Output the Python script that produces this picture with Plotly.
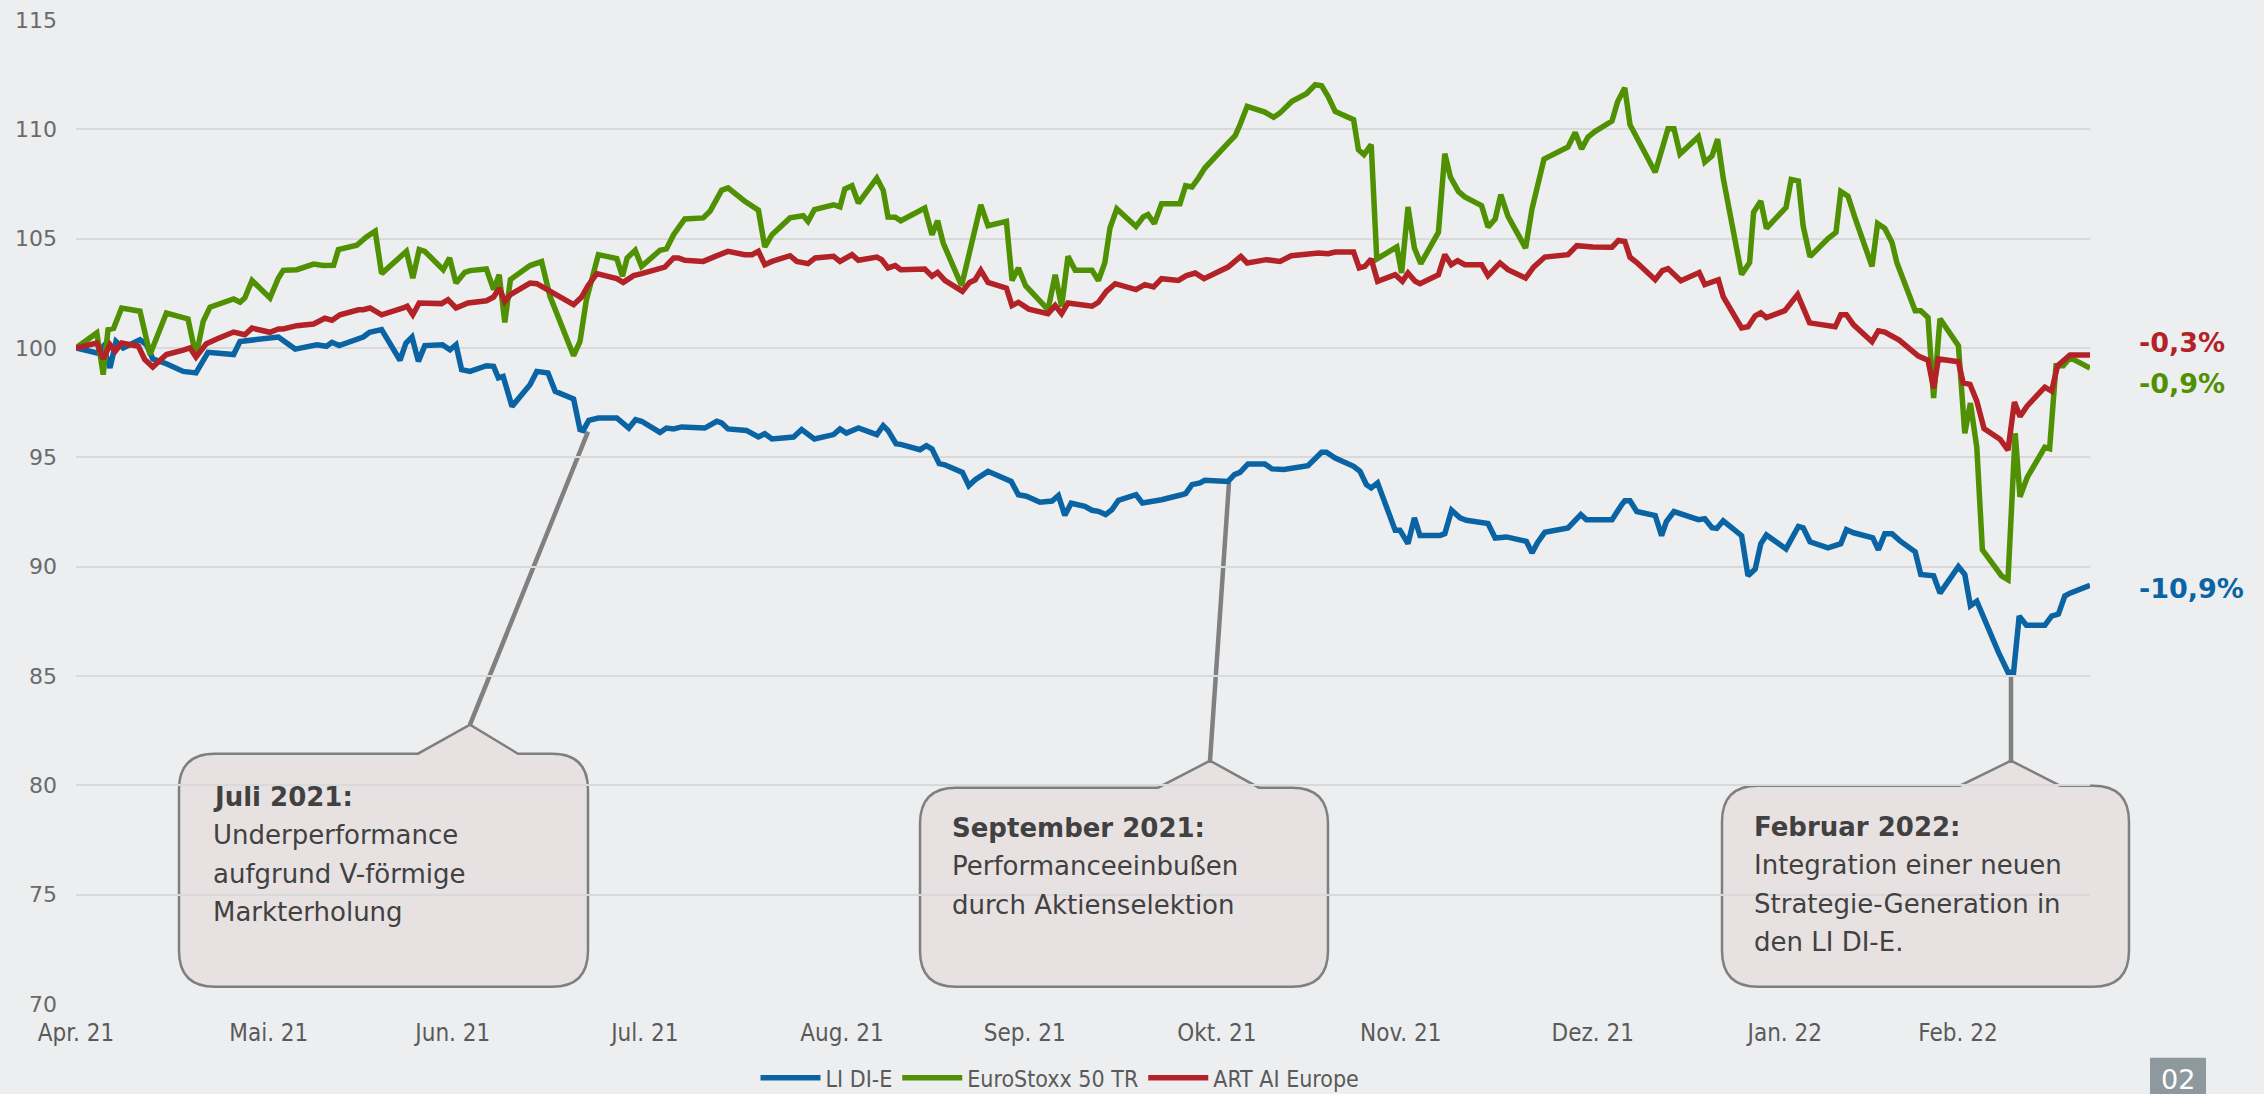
import plotly.graph_objects as go

# ----------------------------------------------------
# Data (x = trading-day position)
# ----------------------------------------------------
month_labels = ["Apr. 21", "Mai. 21", "Jun. 21", "Jul. 21", "Aug. 21", "Sep. 21",
                "Okt. 21", "Nov. 21", "Dez. 21", "Jan. 22", "Feb. 22"]
month_pos = [0, 24.1, 47.1, 71.1, 95.75, 118.6, 142.6, 165.6, 189.6, 213.6, 235.25]

li_x = [0, 2.6, 3.4, 4.25, 5.0, 5.9, 8.0, 8.8, 9.6, 11.3, 13.4, 15.0, 16.5, 19.7, 20.5,
        22.0, 25.3, 27.4, 30.1, 31.3, 32.0, 32.9, 35.1, 35.9, 36.7, 38.2, 40.5, 41.25,
        42.0, 42.8, 43.6, 45.8, 46.75, 47.5, 48.2, 49.25, 51.3, 52.2, 52.8, 53.4, 54.5,
        56.75, 57.6, 59.0, 59.9, 62.2, 63.0, 63.4, 64.1, 65.3, 67.6, 68.4, 69.1, 69.95,
        70.7, 73.0, 73.8, 74.7, 75.7, 78.6, 80.1, 80.7, 81.5, 83.8, 85.3, 86.1, 87.0,
        89.7, 90.7, 92.3, 94.7, 95.5, 96.3, 97.8, 100.1, 100.9, 101.5, 102.5, 103.2,
        105.5, 106.3, 107.0, 107.9, 108.6, 110.8, 111.6, 112.4, 114.0, 116.9, 117.8,
        118.8, 120.5, 122.0, 122.8, 123.6, 124.4, 126.1, 127.0, 127.8, 128.7, 129.5,
        130.3, 132.5, 133.3, 135.7, 138.2, 138.7, 139.5, 140.5, 141.1, 144.0, 144.8,
        145.5, 146.5, 148.6, 149.5, 151.0, 154.0, 155.7, 156.3, 157.4, 159.7, 160.5,
        161.3, 161.9, 162.7, 164.9, 165.5, 166.5, 167.3, 168.0, 170.5, 171.1, 171.95,
        173.0, 173.8, 176.5, 177.4, 178.8, 181.3, 182.0, 182.7, 183.6, 186.5, 188.1,
        188.8, 192.0, 193.2, 193.6, 194.25, 195.1, 197.4, 198.2, 198.8, 199.75, 202.8,
        203.6, 204.5, 205.1, 205.9, 208.2, 209.0, 209.9, 210.6, 211.3, 213.75, 215.3,
        215.9, 216.75, 219.0, 220.6, 221.3, 222.2, 224.6, 225.3, 226.1, 227.0, 228.0,
        229.9, 230.6, 232.2, 233.0, 235.3, 236.1, 236.8, 237.6, 238.4, 240.3, 241.5,
        242.2, 242.9, 243.8, 246.1, 246.95, 247.8, 248.6, 249.25, 251.75]
li_y = [100.0, 99.77, 100.08, 99.09, 100.3, 100.0, 100.38, 100.15, 99.5, 99.28, 98.93,
        98.86, 99.8, 99.7, 100.3, 100.35, 100.5, 99.95, 100.15, 100.08, 100.26, 100.11,
        100.41, 100.5, 100.72, 100.84, 99.44, 100.23, 100.5, 99.39, 100.11, 100.15, 99.92,
        100.15, 99.01, 98.93, 99.19, 99.16, 98.63, 98.7, 97.33, 98.32, 98.93, 98.86, 98.02,
        97.67, 96.27, 96.23, 96.69, 96.8, 96.8, 96.57, 96.34, 96.72, 96.65, 96.14, 96.34,
        96.3, 96.39, 96.34, 96.65, 96.57, 96.3, 96.23, 95.93, 96.08, 95.84, 95.93, 96.27,
        95.84, 96.04, 96.3, 96.11, 96.34, 96.04, 96.45, 96.23, 95.62, 95.58, 95.35, 95.53,
        95.38, 94.71, 94.66, 94.31, 93.7, 93.98, 94.36, 93.9, 93.29, 93.22, 92.95, 93.0,
        93.25, 92.35, 92.9, 92.76, 92.58, 92.53, 92.38, 92.61, 93.03, 93.29, 92.91, 93.06,
        93.29, 93.34, 93.75, 93.83, 93.95, 93.9, 94.21, 94.31, 94.7, 94.7, 94.47, 94.44,
        94.62, 95.23, 95.23, 94.97, 94.59, 94.36, 93.75, 93.6, 93.83, 91.66, 91.66, 91.05,
        92.23, 91.42, 91.42, 91.51, 92.58, 92.23, 92.12, 91.97, 91.31, 91.36, 91.16, 90.63,
        91.11, 91.57, 91.77, 92.38, 92.15, 92.15, 92.83, 93.01, 93.01, 92.52, 92.34, 91.42,
        92.06, 92.52, 92.15, 92.19, 91.78, 91.75, 92.1, 91.42, 89.58, 89.89, 91.05, 91.45,
        90.81, 91.84, 91.78, 91.14, 90.86, 91.05, 91.69, 91.55, 91.32, 90.77, 91.51, 91.51,
        91.18, 90.68, 89.64, 89.58, 88.79, 90.0, 89.64, 88.21, 88.42, 87.69, 86.09, 85.17,
        85.17, 87.74, 87.32, 87.32, 87.74, 87.83, 88.66, 88.79, 89.15]

stoxx_x = [0, 2.6, 3.4, 4.0, 4.7, 5.7, 8.0, 9.25, 11.3, 14.0, 15.0, 15.9, 16.75, 19.7,
           20.5, 21.1, 22.0, 24.25, 25.3, 25.9, 27.6, 29.7, 30.9, 32.2, 32.8, 35.1, 36.3,
           37.4, 38.2, 41.3, 42.1, 42.9, 43.6, 45.9, 46.7, 47.5, 48.6, 49.25, 51.3, 52.2,
           52.9, 53.6, 54.3, 56.75, 58.2, 59.25, 62.2, 63.0, 63.8, 65.3, 67.6, 68.3, 68.9,
           69.9, 70.7, 73.0, 73.8, 74.7, 76.1, 78.4, 79.25, 80.7, 81.5, 83.6, 85.3, 86.1,
           87.0, 89.25, 90.9, 91.5, 92.3, 94.7, 95.5, 96.1, 97.0, 97.8, 100.1, 100.9, 101.5,
           102.4, 103.1, 106.1, 107.0, 107.7, 108.4, 110.7, 113.1, 114.0, 116.3, 117.0,
           117.8, 118.7, 121.5, 122.4, 123.2, 124.0, 124.9, 127.0, 127.8, 128.6, 129.25,
           130.1, 132.5, 133.4, 134.0, 134.8, 135.7, 138.0, 138.7, 139.5, 140.3, 141.1,
           144.0, 144.9, 145.5, 146.4, 148.6, 149.7, 150.5, 152.0, 153.8, 154.9, 155.7,
           156.5, 157.4, 159.7, 160.3, 161.0, 161.9, 162.6, 165.1, 165.7, 166.5, 167.3,
           168.1, 170.3, 171.1, 171.8, 172.8, 173.6, 175.7, 176.5, 177.4, 178.1, 179.0,
           181.2, 182.0, 183.5, 186.5, 187.4, 188.2, 189.0, 189.9, 192.0, 192.7, 193.6,
           194.25, 197.4, 199.0, 199.75, 200.5, 202.8, 203.6, 204.5, 205.2, 205.9, 208.2,
           209.2, 209.7, 210.6, 211.3, 213.75, 214.4, 215.3, 215.9, 216.75, 219.0, 220.0,
           220.6, 221.5, 222.4, 224.5, 225.2, 226.1, 227.0, 227.6, 229.9, 230.6, 231.5,
           232.2, 233.0, 235.3, 236.1, 236.8, 237.6, 238.3, 240.7, 241.5, 242.4, 243.0,
           243.9, 246.1, 246.7, 247.5, 248.4, 249.25, 251.75]
stoxx_y = [100.0, 100.69, 98.78, 100.84, 100.9, 101.83, 101.68, 99.7, 101.6, 101.33, 99.62,
           101.22, 101.87, 102.24, 102.09, 102.29, 103.09, 102.29, 103.2, 103.55, 103.58,
           103.84, 103.77, 103.78, 104.5, 104.7, 105.08, 105.34, 103.4, 104.42, 103.2, 104.5,
           104.42, 103.58, 104.12, 102.97, 103.46, 103.54, 103.61, 102.67, 103.35, 101.17,
           103.13, 103.77, 103.95, 102.36, 99.65, 100.3, 102.2, 104.27, 104.09, 103.28,
           104.12, 104.47, 103.73, 104.47, 104.53, 105.18, 105.9, 105.95, 106.25, 107.21,
           107.32, 106.71, 106.3, 104.62, 105.18, 105.95, 106.05, 105.79, 106.33, 106.55,
           106.45, 107.27, 107.42, 106.63, 107.77, 107.21, 105.99, 105.98, 105.82, 106.4,
           105.18, 105.82, 104.8, 102.85, 106.55, 105.59, 105.79, 103.09, 103.66, 102.85,
           101.75, 103.35, 101.9, 104.19, 103.55, 103.55, 103.09, 103.89, 105.49, 106.36,
           105.56, 105.99, 106.1, 105.69, 106.6, 106.6, 107.42, 107.36, 107.77, 108.23,
           109.37, 109.71, 110.21, 111.05, 110.79, 110.55, 110.75, 111.28, 111.63, 112.04,
           111.99, 111.51, 110.82, 110.44, 109.07, 108.84, 109.3, 104.07, 104.62, 103.43,
           106.45, 104.57, 103.86, 105.29, 108.89, 107.82, 107.16, 106.91, 106.51, 105.53,
           105.9, 107.01, 106.02, 104.57, 106.36, 108.64, 109.19, 109.86, 109.1, 109.65,
           109.91, 110.38, 111.26, 111.9, 110.21, 108.04, 110.03, 110.03, 108.87, 109.66,
           108.5, 108.78, 109.55, 107.77, 103.36, 103.91, 106.21, 106.72, 105.47, 106.43,
           107.71, 107.64, 105.56, 104.18, 105.01, 105.29, 107.16, 106.94, 105.93, 103.73,
           105.69, 105.47, 104.83, 103.91, 101.7, 101.7, 101.39, 97.71, 101.34, 100.11,
           96.1, 97.48, 95.46, 90.77, 89.58, 89.4, 96.1, 93.2, 94.08, 95.46, 95.4, 99.19,
           99.19, 99.56, 99.08]

art_x = [0, 2.6, 3.4, 4.25, 4.9, 5.7, 7.8, 8.6, 9.6, 11.3, 13.4, 14.25, 15.0, 16.3, 17.6,
         19.7, 21.1, 22.0, 24.25, 25.3, 25.9, 27.6, 29.7, 31.1, 32.0, 33.0, 35.3, 35.9,
         36.75, 38.2, 40.9, 41.4, 42.1, 42.9, 45.7, 46.5, 47.5, 49.0, 51.3, 52.2, 52.9,
         53.6, 54.3, 56.75, 57.6, 59.25, 60.1, 62.2, 63.2, 64.0, 65.1, 67.6, 68.4, 69.7,
         70.7, 73.6, 74.7, 75.3, 76.1, 78.4, 79.9, 81.5, 83.6, 84.5, 85.3, 86.1, 87.0,
         89.25, 90.1, 91.5, 92.4, 94.7, 95.5, 97.0, 97.8, 100.1, 100.7, 101.5, 102.4, 103.1,
         106.1, 107.0, 107.7, 108.6, 110.8, 111.7, 112.4, 113.1, 114.0, 116.3, 117.0,
         117.8, 119.1, 121.5, 122.4, 123.2, 124.0, 126.1, 127.0, 127.8, 128.8, 129.9,
         132.5, 133.6, 134.7, 135.7, 137.8, 138.8, 139.9, 141.0, 144.0, 145.6, 146.4,
         148.8, 150.5, 151.9, 155.3, 156.5, 157.4, 159.7, 160.4, 161.1, 161.9, 162.7,
         164.9, 165.8, 166.5, 167.4, 168.0, 170.3, 171.1, 171.9, 172.7, 173.6, 175.7,
         176.5, 178.0, 179.0, 181.2, 182.2, 183.6, 186.5, 187.6, 189.6, 192.0, 192.8,
         193.6, 194.25, 195.1, 197.4, 198.3, 199.0, 200.6, 202.9, 203.6, 205.3, 205.9,
         208.2, 209.0, 209.9, 210.6, 211.3, 213.6, 215.2, 215.9, 216.7, 219.9, 220.6,
         221.3, 222.2, 224.5, 225.3, 226.1, 227.0, 227.9, 230.3, 231.5, 232.2, 232.8,
         235.3, 235.9, 236.75, 237.6, 238.5, 240.5, 241.5, 242.3, 243.0, 243.9, 246.1,
         246.95, 247.7, 249.25, 251.75]
art_y = [100.0, 100.23, 99.5, 100.15, 99.85, 100.23, 100.08, 99.47, 99.13, 99.7, 99.9,
         100.0, 99.59, 100.2, 100.41, 100.73, 100.61, 100.91, 100.72, 100.87, 100.87,
         101.02, 101.1, 101.36, 101.27, 101.52, 101.75, 101.75, 101.83, 101.52, 101.83,
         101.91, 101.52, 102.06, 102.03, 102.21, 101.83, 102.06, 102.16, 102.33, 102.74,
         102.13, 102.44, 102.97, 102.94, 102.59, 102.48, 101.98, 102.33, 102.85, 103.4,
         103.17, 103.0, 103.31, 103.4, 103.7, 104.12, 104.12, 104.01, 103.96, 104.19,
         104.42, 104.27, 104.27, 104.42, 103.81, 103.96, 104.22, 103.96, 103.86, 104.12,
         104.19, 103.96, 104.27, 104.01, 104.16, 104.04, 103.66, 103.77, 103.58, 103.61,
         103.28, 103.46, 103.09, 102.59, 103.0, 103.12, 103.55, 103.0, 102.74, 101.94,
         102.09, 101.78, 101.57, 101.94, 101.57, 102.06, 101.94, 101.91, 102.09, 102.59,
         102.94, 102.67, 102.9, 102.79, 103.17, 103.09, 103.31, 103.43, 103.17, 103.7,
         104.19, 103.89, 104.04, 103.96, 104.22, 104.34, 104.31, 104.39, 104.39, 103.66,
         103.73, 104.07, 103.05, 103.35, 103.05, 103.43, 103.05, 102.94, 103.35, 104.27,
         103.81, 103.99, 103.81, 103.81, 103.31, 103.89, 103.58, 103.2, 103.7, 104.16,
         104.27, 104.68, 104.62, 104.61, 104.92, 104.87, 104.15, 103.91, 103.12, 103.54,
         103.63, 103.08, 103.45, 102.9, 103.12, 102.35, 100.92, 100.97, 101.47, 101.61,
         101.39, 101.71, 102.44, 101.8, 101.15, 100.97, 101.52, 101.52, 101.06, 100.29,
         100.79, 100.73, 100.51, 100.36, 99.63, 99.44, 98.16, 99.5, 99.37, 98.4, 98.34,
         97.57, 96.32, 95.83, 95.33, 97.53, 96.87, 97.35, 98.21, 98.03, 99.19, 99.68,
         99.68]

end_labels = ["-0,3%", "-0,9%", "-10,9%"]

BLUE = "#0A64A4"
GREEN = "#4F9102"
RED = "#B22226"
BG = "#EDEEF0"
NARROW = "DejaVu Sans Condensed, Liberation Sans Narrow, Liberation Sans, sans-serif"

W, H = 2264, 1094
L, R, T, B = 76, 2090, 20.3, 1004.3


def px(x):
    return (x - L) / (R - L)


def py(y):
    return (B - y) / (B - T)


def callout(left, right, top, bottom, nl, ax, ay, nr, r=36):
    pts = [("M", left + r, top), ("L", nl, top), ("L", ax, ay), ("L", nr, top),
           ("L", right - r, top), ("Q", right, top, right, top + r),
           ("L", right, bottom - r), ("Q", right, bottom, right - r, bottom),
           ("L", left + r, bottom), ("Q", left, bottom, left, bottom - r),
           ("L", left, top + r), ("Q", left, top, left + r, top)]
    s = ""
    for p in pts:
        cmd, coords = p[0], p[1:]
        xy = []
        for i in range(0, len(coords), 2):
            xy.append("%.5f,%.5f" % (px(coords[i]), py(coords[i + 1])))
        s += cmd + " ".join(xy) + " "
    return s + "Z"


fig = go.Figure()

fig.add_trace(go.Scatter(x=li_x, y=li_y, name="LI DI-E", mode="lines",
                         line=dict(color=BLUE, width=5.5)))
fig.add_trace(go.Scatter(x=stoxx_x, y=stoxx_y, name="EuroStoxx 50 TR", mode="lines",
                         line=dict(color=GREEN, width=5.5)))
fig.add_trace(go.Scatter(x=art_x, y=art_y, name="ART AI Europe", mode="lines",
                         line=dict(color=RED, width=5.5)))

shapes = []
annotations = []

# callout boxes
boxes = [
    dict(box=(179, 588, 754, 987, 418, 470, 725, 518), line=(470, 725, 588, 432),
         lines=["<b>Juli 2021:</b>", "Underperformance", "aufgrund V-förmige", "Markterholung"],
         tx=211, ty=797),
    dict(box=(920, 1328, 788, 987, 1158, 1210, 761, 1259), line=(1210, 761, 1229, 483),
         lines=["<b>September 2021:</b>", "Performanceeinbußen", "durch Aktienselektion"],
         tx=950, ty=828),
    dict(box=(1722, 2129, 786, 987, 1960, 2011, 761, 2060), line=(2011, 761, 2011, 673),
         lines=["<b>Februar 2022:</b>", "Integration einer neuen",
                "Strategie-Generation in", "den LI DI-E."],
         tx=1752, ty=827),
]
for b in boxes:
    left, right, top, bottom, nl, ax, ay, nr = b["box"]
    shapes.append(dict(type="path", xref="paper", yref="paper",
                       path=callout(left, right, top, bottom, nl, ax, ay, nr),
                       fillcolor="#E7E1E1", line=dict(color="#7F7F7F", width=2.5),
                       layer="below"))
    x0, y0, x1, y1 = b["line"]
    shapes.append(dict(type="line", xref="paper", yref="paper",
                       x0=px(x0), y0=py(y0), x1=px(x1), y1=py(y1),
                       line=dict(color="#808080", width=4.5), layer="below"))
    for i, txt in enumerate(b["lines"]):
        annotations.append(dict(xref="paper", yref="paper", x=px(b["tx"]),
                                y=py(b["ty"] + i * 38.5), text=txt, showarrow=False,
                                xanchor="left", yanchor="middle",
                                font=dict(family="DejaVu Sans", size=26, color="#414141")))

# end-of-line labels
for txt, yy, col in zip(end_labels, [342.5, 384, 589], [RED, GREEN, BLUE]):
    annotations.append(dict(xref="paper", yref="paper", x=px(2137), y=py(yy),
                            text="<b>%s</b>" % txt, showarrow=False, xanchor="left",
                            yanchor="middle",
                            font=dict(family="DejaVu Sans", size=27, color=col)))

# page number box
shapes.append(dict(type="rect", xref="paper", yref="paper", x0=px(2150), x1=px(2206),
                   y0=py(1058), y1=py(1100), fillcolor="#8D999D", line=dict(width=0)))
annotations.append(dict(xref="paper", yref="paper", x=px(2178), y=py(1080), text="02",
                        showarrow=False, xanchor="center", yanchor="middle",
                        font=dict(family="DejaVu Sans", size=27, color="white")))

fig.update_layout(
    width=W, height=H,
    margin=dict(l=L, r=W - R, t=T, b=H - B, autoexpand=False),
    paper_bgcolor=BG, plot_bgcolor=BG,
    shapes=shapes, annotations=annotations,
    showlegend=True,
    legend=dict(orientation="h", x=px(1060), xanchor="center", y=py(1078),
                yanchor="middle", font=dict(family=NARROW, size=23, color="#5A5A5A"),
                bgcolor="rgba(0,0,0,0)", itemwidth=60),
    hovermode=False,
)

fig.update_xaxes(range=[0, 251.75], tickvals=month_pos, ticktext=month_labels,
                 showgrid=False, zeroline=False, showline=False, ticks="",
                 ticklabelstandoff=12,
                 tickfont=dict(family=NARROW, size=24, color="#5A5A5A"))
fig.update_yaxes(range=[70, 115], dtick=5, showgrid=True, gridcolor="#D8D9DB",
                 gridwidth=2, zeroline=False, showline=False, ticks="",
                 ticklabelstandoff=18,
                 tickfont=dict(family="DejaVu Sans", size=22, color="#6A6A6A"))

fig.write_html("out.html", config={"displayModeBar": False},
               post_script="document.body.style.margin='0';"
                           "document.body.style.background='%s';" % BG)
